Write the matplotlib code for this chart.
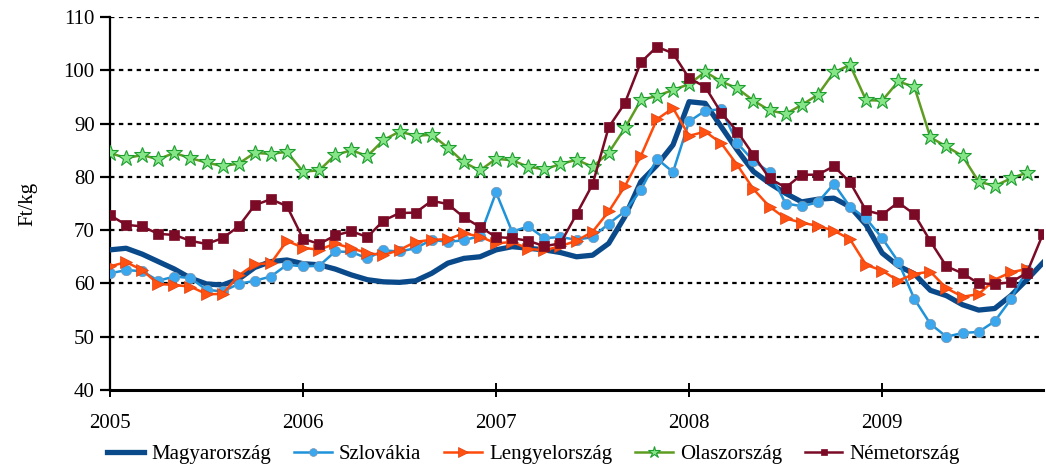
import matplotlib
matplotlib.use("Agg")
import matplotlib.pyplot as plt
import numpy as np

plt.rcParams['font.family'] = ['Liberation Serif', 'DejaVu Serif']

year_labels = ['2005', '2006', '2007', '2008', '2009']
year_ticks = [0, 12, 24, 36, 48]

magyarorszag = [66.3, 66.6, 65.5, 64.1, 62.7, 61.0, 59.9, 59.7, 60.8, 63.0, 64.1, 64.4,
                63.7, 63.5, 62.7, 61.6, 60.7, 60.3, 60.2, 60.5, 61.9, 63.8, 64.7, 65.0,
                66.3, 66.9, 66.6, 66.3, 65.8, 65.0, 65.3, 67.5, 72.5, 79.1, 82.2, 86.0,
                94.1, 93.8, 89.4, 85.0, 81.0, 78.8, 76.9, 75.3, 75.8, 76.0, 74.4, 71.0,
                65.7, 63.3, 61.8, 58.7, 57.7, 56.0, 55.0, 55.3, 57.7, 60.7, 63.9]

szlovakia = [61.9, 62.5, 62.3, 60.5, 61.3, 61.0, 58.8, 58.5, 59.9, 60.5, 61.3, 63.5,
             63.2, 63.3, 66.0, 65.9, 64.7, 66.2, 66.0, 66.6, 68.2, 67.8, 68.1, 68.9,
             77.1, 69.7, 70.7, 68.5, 68.7, 68.2, 68.7, 71.2, 73.5, 77.5, 83.4, 80.9,
             90.4, 92.4, 92.7, 86.3, 83.0, 80.9, 75.0, 74.5, 75.2, 78.7, 74.4, 72.2,
             68.5, 64.1, 57.1, 52.4, 50.0, 50.7, 50.9, 52.9, 57.0, 62.6]

lengyelorszag = [63.2, 64.0, 62.5, 59.9, 59.7, 59.4, 58.0, 58.0, 61.5, 63.6, 63.8, 68.0,
                 66.7, 66.3, 67.5, 66.6, 65.7, 65.3, 66.3, 67.8, 68.2, 68.3, 69.4, 68.8,
                 67.5, 67.8, 66.5, 66.2, 67.0, 68.0, 69.7, 73.5, 78.2, 83.9, 90.8, 92.9,
                 87.7, 88.5, 86.3, 82.2, 77.7, 74.4, 72.2, 71.4, 70.8, 69.9, 68.3, 63.5,
                 62.4, 60.5, 61.8, 62.2, 59.1, 57.5, 58.0, 60.7, 62.1, 62.7]

olaszorszag = [84.5, 83.5, 84.1, 83.3, 84.5, 83.5, 82.7, 82.0, 82.5, 84.5, 84.3, 84.7,
               81.0, 81.2, 84.1, 85.0, 83.9, 86.9, 88.5, 87.7, 87.9, 85.5, 82.7, 81.2,
               83.4, 83.1, 81.9, 81.4, 82.4, 83.2, 81.9, 84.5, 89.1, 94.4, 95.2, 96.3,
               97.4, 99.7, 97.9, 96.6, 94.3, 92.5, 91.8, 93.5, 95.4, 99.6, 101.0, 94.4,
               94.3, 97.9, 96.9, 87.4, 85.7, 83.9, 79.1, 78.3, 79.7, 80.8]

nemetorszag = [72.8, 71.0, 70.7, 69.3, 69.1, 68.0, 67.4, 68.5, 70.7, 74.7, 75.8, 74.5,
               68.4, 67.4, 69.0, 69.8, 68.7, 71.8, 73.2, 73.3, 75.5, 74.9, 72.4, 70.6,
               68.7, 68.5, 68.0, 67.0, 67.5, 73.0, 78.6, 89.3, 93.8, 101.5, 104.4, 103.2,
               98.5, 96.9, 92.0, 88.5, 84.1, 79.7, 78.0, 80.4, 80.4, 82.0, 79.0, 73.7,
               72.9, 75.2, 73.0, 67.9, 63.2, 61.9, 60.0, 59.9, 60.2, 62.0, 69.3]

fig = plt.figure(figsize=(10.46, 4.76), dpi=100)
ax = fig.add_axes([110/1046, 1 - 390/476, (1043 - 110)/1046, (390 - 17)/476])

ax.plot(np.arange(len(magyarorszag)), magyarorszag, color='#0B4A8A', lw=3.8,
        solid_joinstyle='round', label='Magyarország', zorder=3)
ax.plot(np.arange(len(szlovakia)), szlovakia, color='#1E93DA', lw=1.8,
        marker='o', ms=7.5, mfc='#3AA7EF', mec='#7D95AA', mew=0.5,
        label='Szlovákia', zorder=4)
ax.plot(np.arange(len(lengyelorszag)), lengyelorszag, color='#FF4A0A', lw=1.8,
        marker='>', ms=9, mfc='#FF5212', mec='#E04010', mew=0.5,
        label='Lengyelország', zorder=4)
ax.plot(np.arange(len(olaszorszag)), olaszorszag, color='#5E9C22', lw=1.8,
        marker='*', ms=12, mfc='#86E586', mec='#1E9E30', mew=0.8,
        label='Olaszország', zorder=4)
ax.plot(np.arange(len(nemetorszag)), nemetorszag, color='#7A0A25', lw=1.8,
        marker='s', ms=6.5, mfc='#7A0A25', mec='#7A0A25', mew=0.5,
        label='Németország', zorder=4)

ax.set_xlim(0, 58)
ax.set_ylim(40, 110)
ax.set_yticks(range(40, 111, 10))
ax.set_xticks(year_ticks)
ax.set_xticklabels(year_labels)
for y in range(50, 111, 10):
    ax.axhline(y, color='black', lw=1.6, ls=(0, (2.0, 2.0)), zorder=1)

for s in ['top', 'right']:
    ax.spines[s].set_visible(False)
ax.spines['left'].set_linewidth(1.6)
ax.spines['bottom'].set_linewidth(2.2)
ax.tick_params(axis='y', direction='out', length=7, width=1.6, labelsize=15, pad=4)
ax.tick_params(axis='x', direction='inout', length=10, width=1.4, labelsize=15, pad=12)
ax.set_ylabel('Ft/kg', fontsize=15, labelpad=19)

handles, labels = ax.get_legend_handles_labels()
leg = fig.legend(handles, labels, loc='lower center', bbox_to_anchor=(0.51, -0.015),
                 ncol=5, frameon=False, fontsize=15, handlelength=1.8,
                 handletextpad=0.35, columnspacing=1.1, markerscale=0.75)

fig.savefig('out.png', dpi=100)
